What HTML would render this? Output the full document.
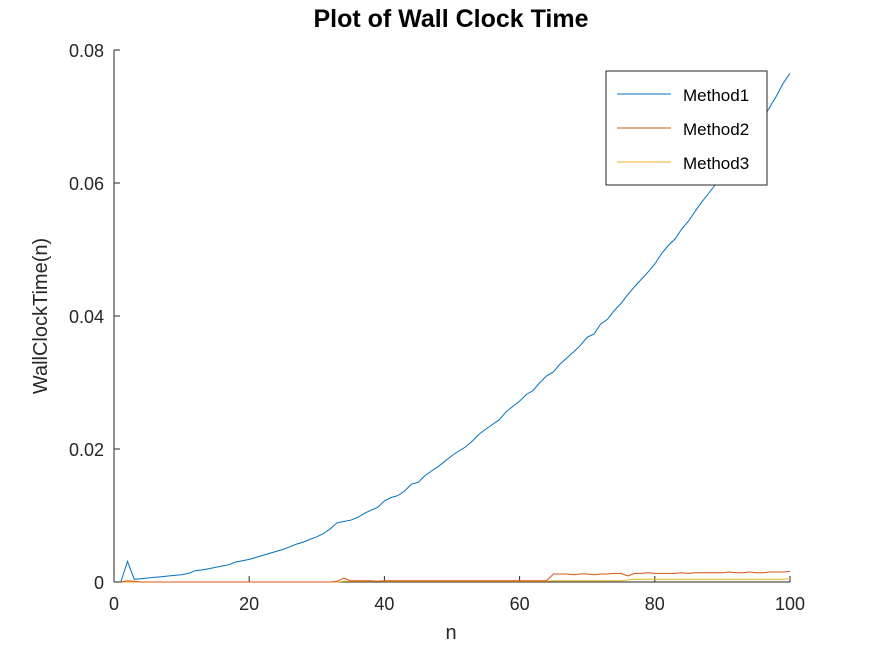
<!DOCTYPE html>
<html><head><meta charset="utf-8"><style>
body{margin:0;background:#fff;}
svg{display:block;font-family:"Liberation Sans",sans-serif;}
</style></head><body>
<svg id="chart" width="872" height="654">
<text x="451" y="27" text-anchor="middle" font-size="25" font-weight="bold" fill="#000">Plot of Wall Clock Time</text>
<text x="451" y="639" text-anchor="middle" font-size="20" fill="#262626">n</text>
<text transform="translate(47,316) rotate(-90)" text-anchor="middle" font-size="20" fill="#262626">WallClockTime(n)</text>
<g id="axes"></g>
<g id="series"></g>
<g>
<rect x="606" y="71" width="161" height="114" fill="#fff" stroke="#262626" stroke-width="1"/>
<g><line x1="617" y1="94" x2="671" y2="94" stroke="#0072bd"/><text x="683" y="101" font-size="17" fill="#000">Method1</text></g>
<g><line x1="617" y1="128" x2="671" y2="128" stroke="#d95319"/><text x="683" y="135" font-size="17" fill="#000">Method2</text></g>
<g><line x1="617" y1="162" x2="671" y2="162" stroke="#edb120"/><text x="683" y="169" font-size="17" fill="#000">Method3</text></g>
</g>
</svg>
<script>
const xTicks=[0,20,40,60,80,100];
const yTicks=[0,0.02,0.04,0.06,0.08];
const yTickLabels=["0","0.02","0.04","0.06","0.08"];
const method1=[0,0.0031,0.0004,0.0005,0.0006,0.0007,0.0008,0.0009,0.0010,0.0011,0.0013,0.0017,0.0018,0.0020,0.0022,0.0024,0.0026,0.0030,0.0032,0.0034,0.0037,0.0040,0.0043,0.0046,0.0049,0.0053,0.0057,0.0060,0.0064,0.0068,0.0073,0.0080,0.0089,0.0091,0.0093,0.0097,0.0103,0.0108,0.0112,0.0122,0.0127,0.0130,0.0137,0.0147,0.0150,0.0160,0.0167,0.0174,0.0182,0.0190,0.0197,0.0203,0.0212,0.0222,0.0230,0.0237,0.0244,0.0256,0.0264,0.0272,0.0282,0.0288,0.0300,0.0310,0.0316,0.0328,0.0337,0.0346,0.0356,0.0368,0.0373,0.0388,0.0395,0.0408,0.0419,0.0432,0.0444,0.0455,0.0466,0.0478,0.0494,0.0506,0.0516,0.0531,0.0543,0.0558,0.0572,0.0585,0.0598,0.0610,0.0622,0.0636,0.0650,0.0665,0.0680,0.0697,0.0714,0.0731,0.0750,0.0765];
const method2=[0,0.0002,0.0001,0,0,0,0,0,0,0,0,0,0,0,0,0,0,0,0,0,0,0,0,0,0,0,0,0,0,0,0,0,0.0001,0.0006,0.0002,0.0002,0.0002,0.0002,0.0001,0.0002,0.0002,0.0002,0.0002,0.0002,0.0002,0.0002,0.0002,0.0002,0.0002,0.0002,0.0002,0.0002,0.0002,0.0002,0.0002,0.0002,0.0002,0.0002,0.0002,0.0002,0.0002,0.0002,0.0002,0.0002,0.0012,0.0012,0.0012,0.0011,0.0012,0.0012,0.0011,0.0012,0.0012,0.0013,0.0013,0.0009,0.0013,0.0013,0.0014,0.0013,0.0013,0.0013,0.0013,0.0014,0.0013,0.0014,0.0014,0.0014,0.0014,0.0014,0.0015,0.0014,0.0014,0.0015,0.0014,0.0014,0.0015,0.0015,0.0015,0.0016];
const method3=[0,0,0,0,0,0,0,0,0,0,0,0,0,0,0,0,0,0,0,0,0,0,0,0,0,0,0,0,0,0,0,0,0,0.0001,0.0001,0.0001,0.0001,0.0001,0.0001,0.0001,0.0001,0.0001,0.0001,0.0001,0.0001,0.0001,0.0001,0.0001,0.0001,0.0001,0.0001,0.0001,0.0001,0.0001,0.0001,0.0001,0.0001,0.0001,0.0001,0.0001,0.0001,0.0001,0.0001,0.0001,0.0002,0.0002,0.0002,0.0002,0.0002,0.0002,0.0002,0.0002,0.0002,0.0002,0.0002,0.0003,0.0004,0.0004,0.0004,0.0004,0.0004,0.0004,0.0004,0.0004,0.0004,0.0004,0.0004,0.0004,0.0004,0.0004,0.0004,0.0004,0.0004,0.0004,0.0004,0.0004,0.0004,0.0004,0.0004,0.0005];
const NS="http://www.w3.org/2000/svg";
const X0=114,X1=790,Y0=582,Y1=50;
function sx(v){return X0+(v-0)/(100-0)*(X1-X0);}
function sy(v){return Y0-(v-0)/(0.08-0)*(Y0-Y1);}
function mk(tag,attrs,parent){const e=document.createElementNS(NS,tag);for(const k in attrs)e.setAttribute(k,attrs[k]);parent.appendChild(e);return e;}
const axes=document.getElementById('axes');
const xa=mk('line',{x1:X0,y1:Y0,x2:X1,y2:Y0,stroke:'#262626'},axes);


const ya=mk('line',{x1:X0,y1:Y0,x2:X0,y2:Y1,stroke:'#262626'},axes);


xTicks.forEach(t=>{
  const x=sx(t);
  mk('line',{x1:x,y1:Y0,x2:x,y2:Y0-6,stroke:'#262626'},axes);
  const tx=mk('text',{x:x,y:Y0+28,'text-anchor':'middle','font-size':18,fill:'#262626'},axes);
  tx.textContent=t;
  
  
});
yTicks.forEach((t,i)=>{
  const y=sy(t);
  mk('line',{x1:X0,y1:y,x2:X0+6,y2:y,stroke:'#262626'},axes);
  const tx=mk('text',{x:X0-10,y:y+7,'text-anchor':'end','font-size':18,fill:'#262626'},axes);
  tx.textContent=yTickLabels[i];
  
  
});
const ser=document.getElementById('series');
[[method3,'#edb120','method3-line'],[method2,'#d95319','method2-line'],[method1,'#0072bd','method1-line']].forEach(([d,c,n])=>{
  const pts=d.map((v,i)=>sx(i+1).toFixed(1)+','+sy(v).toFixed(1)).join(' ');
  const p=mk('polyline',{points:pts,fill:'none',stroke:c,'stroke-width':1},ser);
  
  
});
</script>
</body></html>
